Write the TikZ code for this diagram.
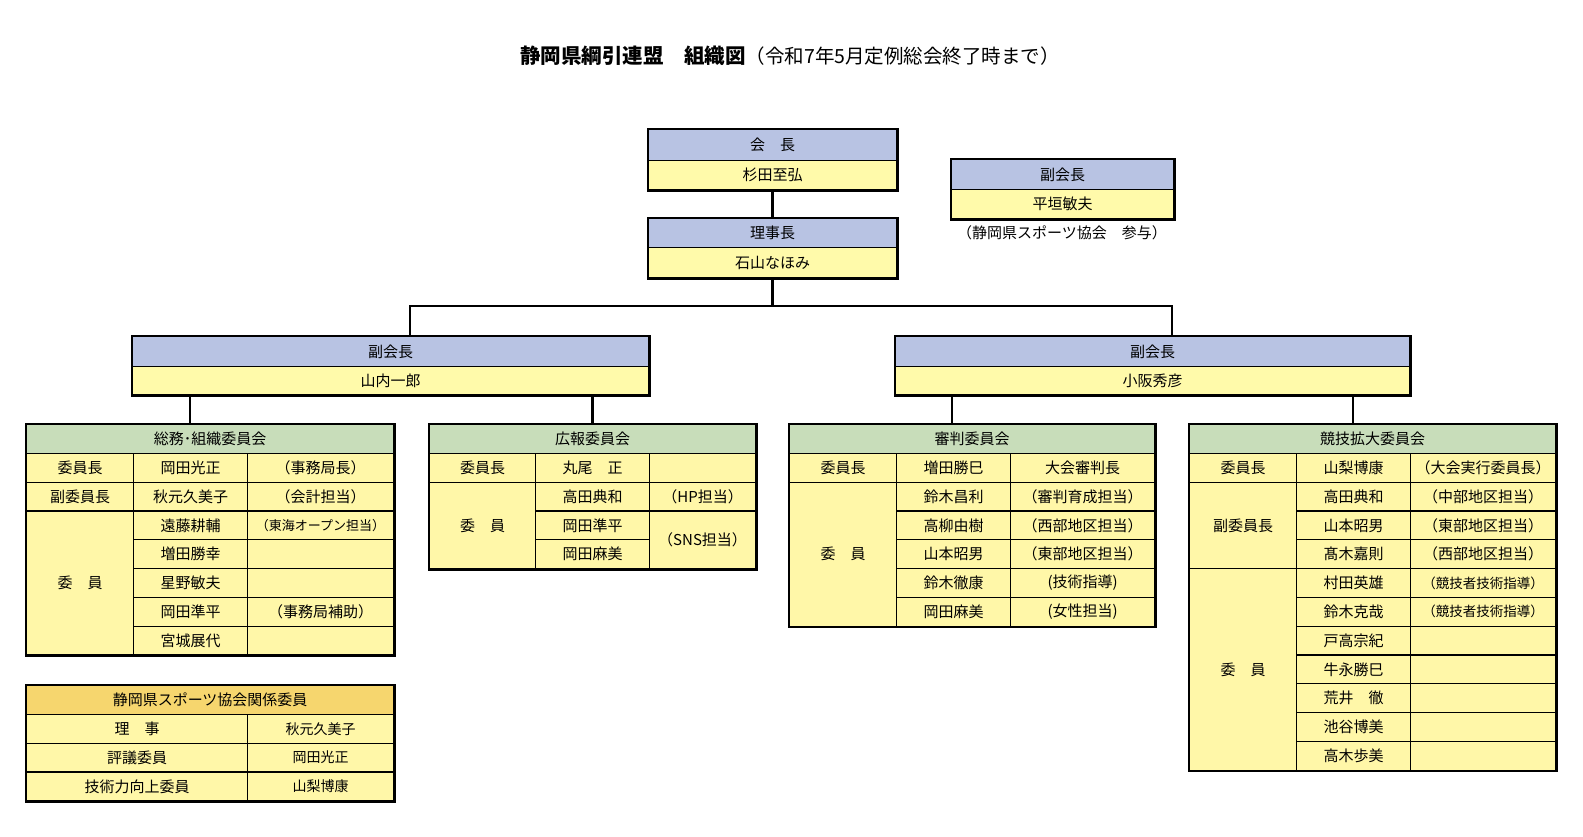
\documentclass[tikz,border=0pt]{standalone}
\usepackage{fontspec}
\setmainfont{Noto Sans CJK JP}
\usetikzlibrary{positioning}

\definecolor{postblue}{HTML}{B8C3E3}
\definecolor{nameyel}{HTML}{FFFAAA}
\definecolor{cellyel}{HTML}{FFF7A8}
\definecolor{grpgreen}{HTML}{C8DDBA}
\definecolor{orghead}{HTML}{F6D66E}

\newcommand{\smalltxt}[1]{{\fontsize{13}{13}\selectfont #1}}

\tikzset{
  cell/.style={draw, line width=1.2pt, inner sep=0pt, anchor=north west, fill=cellyel,
    minimum height=28.8pt, font=\fontsize{15}{15}\selectfont},
  post/.style={cell, fill=postblue},
  person/.style={cell, fill=nameyel},
  group/.style={cell, fill=grpgreen},
  orggroup/.style={cell, fill=orghead},
  frame/.style={line width=2.6pt},
  conn/.style={line width=2.6pt},
}

\begin{document}
\begin{tikzpicture}[x=1pt, y=-1pt]
    \useasboundingbox[fill=white] (0,0) rectangle (1583,836);

    \node[font=\bfseries\fontsize{20.5}{20.5}\selectfont] (title) at (790,56) {静岡県綱引連盟　組織図\mdseries\fontsize{19.5}{19.5}\selectfont（令和7年5月定例総会終了時まで）};

    % top of the tree
    \node[post, minimum width=248pt, minimum height=31pt] (kaicho) at (648,129) {会　長};
    \node[person, minimum width=248pt, minimum height=29pt] (kaicho-n) at (648,160) {杉田至弘};
    \draw[frame] (kaicho.north west) rectangle (kaicho-n.south east);

    \node[post, minimum width=248pt, minimum height=29pt] (rijicho) at (648,218) {理事長};
    \node[person, minimum width=248pt, minimum height=30pt] (rijicho-n) at (648,247) {石山なほみ};
    \draw[frame] (rijicho.north west) rectangle (rijicho-n.south east);

    \node[post, minimum width=222pt, minimum height=30pt] (fuku0) at (951,159) {副会長};
    \node[person, minimum width=222pt, minimum height=29pt] (fuku0-n) at (951,189) {平垣敏夫};
    \draw[frame] (fuku0.north west) rectangle (fuku0-n.south east);
    \node[font=\fontsize{15}{15}\selectfont] (sanyo) at (1062,233) {（静岡県スポーツ協会　参与）};

    \node[post, minimum width=516pt, minimum height=30pt] (fuku1) at (132,336) {副会長};
    \node[person, minimum width=516pt, minimum height=28pt] (fuku1-n) at (132,366) {山内一郎};
    \draw[frame] (fuku1.north west) rectangle (fuku1-n.south east);

    \node[post, minimum width=514pt, minimum height=30pt] (fuku2) at (895,336) {副会長};
    \node[person, minimum width=514pt, minimum height=28pt] (fuku2-n) at (895,366) {小阪秀彦};
    \draw[frame] (fuku2.north west) rectangle (fuku2-n.south east);

    % 総務・組織委員会
    \node[group, minimum width=367pt] (somu) at (26,424) {総務･組織委員会};
    \node[cell, minimum width=107pt] (somu-r1) at (26,452.8) {委員長};
    \node[cell, minimum width=114pt] (somu-n1) at (133,452.8) {岡田光正};
    \node[cell, minimum width=146pt] (somu-t1) at (247,452.8) {（事務局長）};
    \node[cell, minimum width=107pt] (somu-r2) at (26,481.6) {副委員長};
    \node[cell, minimum width=114pt] (somu-n2) at (133,481.6) {秋元久美子};
    \node[cell, minimum width=146pt] (somu-t2) at (247,481.6) {（会計担当）};
    \node[cell, minimum width=107pt, minimum height=144pt] (somu-r3) at (26,510.4) {委　員};
    \foreach \nm/\nt [count=\i from 3] in {遠藤耕輔/\smalltxt{（東海オープン担当）}, 増田勝幸/{}, 星野敏夫/{}, 岡田準平/（事務局補助）, 宮城展代/{}} {
        \node[cell, minimum width=114pt] (somu-n\i) at (133,{424+28.8*\i}) {\nm};
        \node[cell, minimum width=146pt] (somu-t\i) at (247,{424+28.8*\i}) {\nt};
    }
    \draw[frame] (somu.north west) rectangle (somu-t7.south east);

    % 広報委員会
    \node[group, minimum width=326pt] (koho) at (429,424) {広報委員会};
    \node[cell, minimum width=106pt] (koho-r1) at (429,452.8) {委員長};
    \node[cell, minimum width=114pt] (koho-n1) at (535,452.8) {丸尾　正};
    \node[cell, minimum width=106pt] (koho-t1) at (649,452.8) {};
    \node[cell, minimum width=106pt, minimum height=86.4pt] (koho-r2) at (429,481.6) {委　員};
    \node[cell, minimum width=114pt] (koho-n2) at (535,481.6) {高田典和};
    \node[cell, minimum width=106pt] (koho-t2) at (649,481.6) {（HP担当）};
    \node[cell, minimum width=114pt] (koho-n3) at (535,510.4) {岡田準平};
    \node[cell, minimum width=114pt] (koho-n4) at (535,539.2) {岡田麻美};
    \node[cell, minimum width=106pt, minimum height=57.6pt] (koho-t3) at (649,510.4) {（SNS担当）};
    \draw[frame] (koho.north west) rectangle (koho-t3.south east);

    % 審判委員会
    \node[group, minimum width=365pt] (shinpan) at (789,424) {審判委員会};
    \node[cell, minimum width=107pt] (shinpan-r1) at (789,452.8) {委員長};
    \node[cell, minimum width=114pt] (shinpan-n1) at (896,452.8) {増田勝巳};
    \node[cell, minimum width=144pt] (shinpan-t1) at (1010,452.8) {大会審判長};
    \node[cell, minimum width=107pt, minimum height=144pt] (shinpan-r2) at (789,481.6) {委　員};
    \foreach \nm/\nt [count=\i from 2] in {鈴木昌利/（審判育成担当）, 高柳由樹/（西部地区担当）, 山本昭男/（東部地区担当）, 鈴木徹康/(技術指導), 岡田麻美/(女性担当)} {
        \node[cell, minimum width=114pt] (shinpan-n\i) at (896,{424+28.8*\i}) {\nm};
        \node[cell, minimum width=144pt] (shinpan-t\i) at (1010,{424+28.8*\i}) {\nt};
    }
    \draw[frame] (shinpan.north west) rectangle (shinpan-t6.south east);

    % 競技拡大委員会
    \node[group, minimum width=366pt] (kyogi) at (1189,424) {競技拡大委員会};
    \node[cell, minimum width=107pt] (kyogi-r1) at (1189,452.8) {委員長};
    \node[cell, minimum width=114pt] (kyogi-n1) at (1296,452.8) {山梨博康};
    \node[cell, minimum width=145pt] (kyogi-t1) at (1410,452.8) {（大会実行委員長）};
    \node[cell, minimum width=107pt, minimum height=86.4pt] (kyogi-r2) at (1189,481.6) {副委員長};
    \node[cell, minimum width=107pt, minimum height=201.6pt] (kyogi-r3) at (1189,568) {委　員};
    \foreach \nm/\nt [count=\i from 2] in {高田典和/（中部地区担当）, 山本昭男/（東部地区担当）, 髙木嘉則/（西部地区担当）, 村田英雄/{\fontsize{13.5}{13.5}\selectfont（競技者技術指導）}, 鈴木克哉/{\fontsize{13.5}{13.5}\selectfont（競技者技術指導）}, 戸高宗紀/{}, 牛永勝巳/{}, 荒井　徹/{}, 池谷博美/{}, 高木歩美/{}} {
        \node[cell, minimum width=114pt] (kyogi-n\i) at (1296,{424+28.8*\i}) {\nm};
        \node[cell, minimum width=145pt] (kyogi-t\i) at (1410,{424+28.8*\i}) {\nt};
    }
    \draw[frame] (kyogi.north west) rectangle (kyogi-t11.south east);

    % 静岡県スポーツ協会関係委員
    \node[orggroup, minimum width=367pt] (spokyo) at (26,685) {静岡県スポーツ協会関係委員};
    \foreach \rl/\nm [count=\i] in {理　事/秋元久美子, 評議委員/岡田光正, 技術力向上委員/山梨博康} {
        \node[cell, minimum width=221pt] (spokyo-r\i) at (26,{685+28.8*\i}) {\rl};
        \node[cell, minimum width=146pt, font=\fontsize{14}{14}\selectfont] (spokyo-n\i) at (247,{685+28.8*\i}) {\nm};
    }
    \draw[frame] (spokyo.north west) rectangle (spokyo-n3.south east);

    % connectors
    \coordinate (bus-l) at (410,306);
    \coordinate (bus-r) at (1172,306);
    \coordinate (drop-somu) at (190,0);
    \coordinate (drop-shinpan) at (952,0);
    \coordinate (drop-kyogi) at (1353,0);
    \draw[conn] (kaicho-n.south) -- (rijicho.north);
    \draw[conn] (rijicho-n.south) -- (rijicho-n.south |- bus-l);
    \draw[conn] (bus-l |- fuku1.north) -- (bus-l) -- (bus-r) -- (bus-r |- fuku2.north);
    \draw[conn] (fuku1-n.south -| drop-somu) -- (somu.north -| drop-somu);
    \draw[conn] (fuku1-n.south -| koho.north) -- (koho.north);
    \draw[conn] (fuku2-n.south -| drop-shinpan) -- (shinpan.north -| drop-shinpan);
    \draw[conn] (fuku2-n.south -| drop-kyogi) -- (kyogi.north -| drop-kyogi);
\end{tikzpicture}
\end{document}
